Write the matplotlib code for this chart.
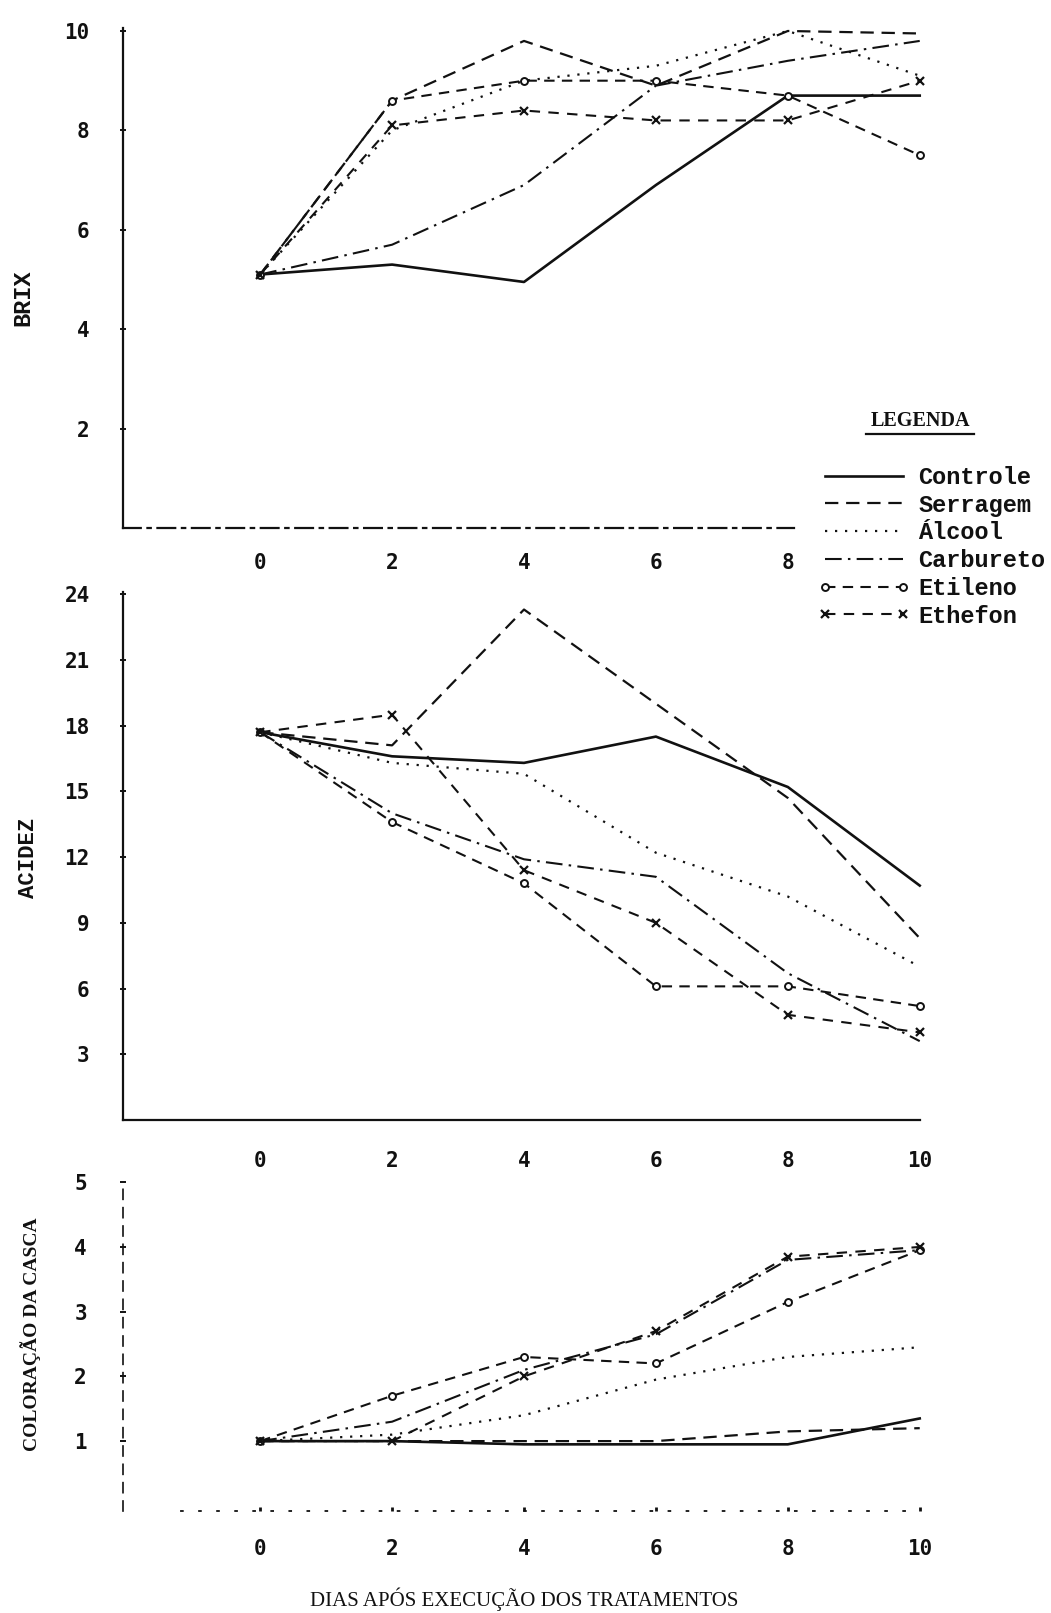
import matplotlib
matplotlib.use("Agg")
import matplotlib.pyplot as plt
from matplotlib.lines import Line2D

# ---------------- data ----------------
days = [0, 2, 4, 6, 8, 10]
series_names = ["Controle", "Serragem", "Álcool", "Carbureto", "Etileno", "Ethefon"]

brix_controle = [5.1, 5.3, 4.95, 6.9, 8.7, 8.7]
brix_serragem = [5.1, 8.6, 9.8, 8.9, 10.0, 9.95]
brix_alcool = [5.1, 8.0, 9.0, 9.3, 10.0, 9.1]
brix_carbureto = [5.1, 5.7, 6.9, 8.9, 9.4, 9.8]
brix_etileno = [5.1, 8.6, 9.0, 9.0, 8.7, 7.5]
brix_ethefon = [5.1, 8.1, 8.4, 8.2, 8.2, 9.0]

acid_controle = [17.7, 16.6, 16.3, 17.5, 15.2, 10.7]
acid_serragem = [17.7, 17.1, 23.3, 19.0, 14.7, 8.3]
acid_alcool = [17.7, 16.3, 15.8, 12.2, 10.2, 7.0]
acid_carbureto = [17.7, 14.0, 11.9, 11.1, 6.7, 3.6]
acid_etileno = [17.7, 13.6, 10.8, 6.1, 6.1, 5.2]
acid_ethefon = [17.7, 18.5, 11.4, 9.0, 4.8, 4.0]

cor_controle = [1.0, 1.0, 0.95, 0.95, 0.95, 1.35]
cor_serragem = [1.0, 1.0, 1.0, 1.0, 1.15, 1.2]
cor_alcool = [1.0, 1.1, 1.4, 1.95, 2.3, 2.45]
cor_carbureto = [1.0, 1.3, 2.1, 2.65, 3.8, 3.95]
cor_etileno = [1.0, 1.7, 2.3, 2.2, 3.15, 3.95]
cor_ethefon = [1.0, 1.0, 2.0, 2.7, 3.85, 4.0]

brix_ticks = [2, 4, 6, 8, 10]
acid_ticks = [3, 6, 9, 12, 15, 18, 21, 24]
cor_ticks = [1, 2, 3, 4, 5]
x_ticks_top = [0, 2, 4, 6, 8]
x_ticks = [0, 2, 4, 6, 8, 10]

# ---------------- styles ----------------
INK = "#111111"
styles = {
    "Controle": dict(linestyle="-", lw=1.9),
    "Serragem": dict(linestyle=(0, (6, 3.5)), lw=1.6),
    "Álcool": dict(linestyle=(0, (1, 3.5)), lw=1.6),
    "Carbureto": dict(linestyle=(0, (8, 3, 1.2, 3)), lw=1.5),
    "Etileno": dict(linestyle=(0, (5, 3.5)), lw=1.5, marker="o", ms=5,
                    mfc="white", mec=INK, mew=1.4),
    "Ethefon": dict(linestyle=(0, (5, 4)), lw=1.5, marker="x", ms=6, mew=1.6),
}

W, H = 1051, 1613
fig = plt.figure(figsize=(W / 100, H / 100), dpi=100)
fig.patch.set_facecolor("white")

X_LEFT, X_RIGHT = 123, 925
XLIM = (-2.08, 10.08)


def make_ax(top_px, bottom_px):
    return fig.add_axes([X_LEFT / W, 1 - bottom_px / H,
                         (X_RIGHT - X_LEFT) / W, (bottom_px - top_px) / H])


tick_font = dict(family="DejaVu Sans Mono", weight="bold", size=15)


def style_ax(ax, yticks, xticks, ylim, xpad, ypad):
    ax.set_xlim(*XLIM)
    ax.set_ylim(*ylim)
    ax.set_facecolor("none")
    for s in ("top", "right"):
        ax.spines[s].set_visible(False)
    for s in ("left", "bottom"):
        ax.spines[s].set_color(INK)
        ax.spines[s].set_linewidth(1.6)
    ax.set_yticks(yticks)
    ax.set_xticks(xticks)
    ax.set_yticklabels([str(t) for t in yticks], fontdict=tick_font, color=INK)
    ax.set_xticklabels([str(t) for t in xticks], fontdict=tick_font, color=INK)
    ax.tick_params(axis="y", length=4, width=1.4, direction="inout", pad=ypad, colors=INK)
    ax.tick_params(axis="x", length=0, pad=xpad, colors=INK)


def draw(ax, data):
    handles = []
    for name, vals in zip(series_names, data):
        (ln,) = ax.plot(days, vals, color=INK, label=name, **styles[name])
        handles.append(ln)
    return handles


# ---------- top: BRIX ----------
ax1 = make_ax(28.5, 528)
style_ax(ax1, brix_ticks, x_ticks_top, (0, 10.05), xpad=18, ypad=22)
handles = draw(ax1, [brix_controle, brix_serragem, brix_alcool,
                     brix_carbureto, brix_etileno, brix_ethefon])
ax1.spines["bottom"].set_bounds(XLIM[0], 8.1)
ax1.spines["bottom"].set_linestyle((0, (8, 3, 1.5, 3)))

# ---------- middle: ACIDEZ ----------
ax2 = make_ax(592, 1120)
style_ax(ax2, acid_ticks, x_ticks, (0, 24.1), xpad=22, ypad=22)
draw(ax2, [acid_controle, acid_serragem, acid_alcool,
           acid_carbureto, acid_etileno, acid_ethefon])
ax2.spines["bottom"].set_bounds(XLIM[0], 10)

# ---------- bottom: COLORAÇÃO ----------
ax3 = make_ax(1179, 1511)
style_ax(ax3, cor_ticks, x_ticks, (-0.08, 5.05), xpad=20, ypad=24)
draw(ax3, [cor_controle, cor_serragem, cor_alcool,
           cor_carbureto, cor_etileno, cor_ethefon])
ax3.spines["left"].set_linestyle((0, (6, 5)))
ax3.spines["left"].set_linewidth(1.2)
ax3.spines["left"].set_bounds(-0.08, 4.95)
ax3.spines["bottom"].set_linestyle((0, (1, 9)))
ax3.spines["bottom"].set_linewidth(1.3)
ax3.spines["bottom"].set_bounds(-1.2, 10)
ax3.tick_params(axis="x", length=3, width=2, direction="in")

# ---------- axis labels ----------
fig.text(23 / W, 1 - 298 / H, "BRIX", rotation=90, ha="center", va="center",
         family="Liberation Mono", weight="bold", size=17, color=INK)
fig.text(29 / W, 1 - 858 / H, "ACIDEZ", rotation=90, ha="center", va="center",
         family="Liberation Mono", weight="bold", size=16, color=INK)
fig.text(31 / W, 1 - 1334 / H, "COLORAÇÃO DA CASCA", rotation=90, ha="center",
         va="center", family="Liberation Serif", weight="bold", size=14, color=INK)
fig.text(524 / W, 1 - 1599 / H, "DIAS APÓS EXECUÇÃO DOS TRATAMENTOS",
         ha="center", va="center", family="Liberation Serif", size=15, color=INK)

# ---------- legend ----------
fig.text(920 / W, 1 - 421 / H, "LEGENDA", ha="center", va="center",
         family="Liberation Serif", weight="bold", size=14.5, color=INK)
fig.add_artist(Line2D([866 / W, 974 / W], [1 - 434 / H, 1 - 434 / H],
                      color=INK, lw=1.6, transform=fig.transFigure))

leg = fig.legend(handles, series_names, loc="upper left",
                 bbox_to_anchor=(818 / W, 1 - 466 / H),
                 frameon=False, handlelength=3.9, handletextpad=0.35,
                 borderpad=0, borderaxespad=0, labelspacing=0.2, numpoints=2,
                 prop=dict(family="Liberation Mono", weight="bold", size=17))
for t in leg.get_texts():
    t.set_color(INK)

fig.savefig("out.png", dpi=100, facecolor="white")
